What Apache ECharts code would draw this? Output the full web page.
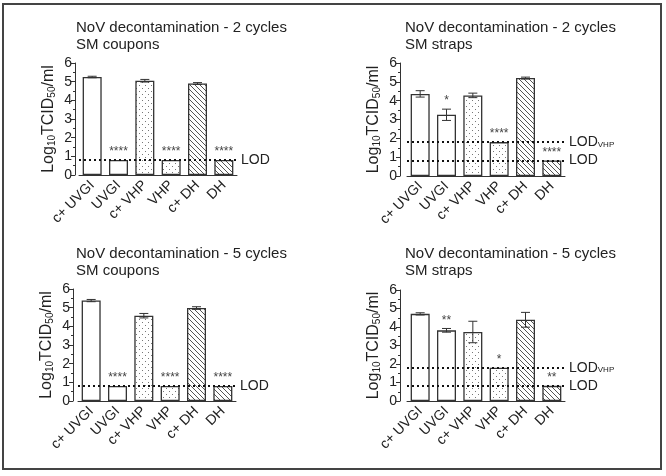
<!DOCTYPE html>
<html>
<head>
<meta charset="utf-8">
<script src="https://cdn.jsdelivr.net/npm/echarts@6/dist/echarts.min.js"></script>
<style>
html,body{margin:0;padding:0;background:#fff;}
#chart{width:666px;height:476px;}
</style>
</head>
<body>
<div id="chart"></div>
<script>
// ---- data ----
const categories = ['c+ UVGI', 'UVGI', 'c+ VHP', 'VHP', 'c+ DH', 'DH'];
const yTicks = [0, 1, 2, 3, 4, 5, 6];

const titles = [
  'NoV decontamination - 2 cycles\nSM coupons',
  'NoV decontamination - 2 cycles\nSM straps',
  'NoV decontamination - 5 cycles\nSM coupons',
  'NoV decontamination - 5 cycles\nSM straps'
];

const means2Coupons = [5.25, 0.8, 5.05, 0.8, 4.9, 0.8];
const errs2Coupons  = [0.04, 0, 0.07, 0, 0.05, 0];
const sig2Coupons   = ['', '****', '', '****', '', '****'];

const means2Straps = [4.36, 3.25, 4.28, 1.8, 5.2, 0.82];
const errs2Straps  = [0.17, 0.3, 0.12, 0, 0.05, 0];
const sig2Straps   = ['', '*', '', '****', '', '****'];

const means5Coupons = [5.38, 0.8, 4.57, 0.8, 4.98, 0.8];
const errs5Coupons  = [0.06, 0, 0.12, 0, 0.07, 0];
const sig5Coupons   = ['', '****', '', '****', '', '****'];

const means5Straps = [4.71, 3.82, 3.73, 1.8, 4.39, 0.82];
const errs5Straps  = [0.06, 0.1, 0.58, 0, 0.4, 0];
const sig5Straps   = ['', '**', '', '*', '', '**'];

const lod = 0.82;
const lodVHP = 1.8;

// ---- patterns ----
function hatchPattern() {
  const c = document.createElement('canvas');
  c.width = 5; c.height = 5;
  const g = c.getContext('2d');
  g.fillStyle = '#fff'; g.fillRect(0, 0, 5, 5);
  g.strokeStyle = '#555'; g.lineWidth = 1;
  g.beginPath();
  g.moveTo(-1, -1); g.lineTo(6, 6);
  g.moveTo(-1, 4); g.lineTo(2, 7);
  g.moveTo(4, -1); g.lineTo(7, 2);
  g.stroke();
  return {image: c, repeat: 'repeat'};
}
function dotPattern() {
  const c = document.createElement('canvas');
  c.width = 6; c.height = 6;
  const g = c.getContext('2d');
  g.fillStyle = '#fff'; g.fillRect(0, 0, 6, 6);
  g.fillStyle = '#777';
  g.fillRect(1, 1, 1, 1);
  g.fillRect(4, 4, 1, 1);
  return {image: c, repeat: 'repeat'};
}
const fills = ['#fff', '#fff', dotPattern(), dotPattern(), hatchPattern(), hatchPattern()];

const FONT = 'Liberation Sans, Arial, sans-serif';
const panels = [
  {means: means2Coupons, errs: errs2Coupons, sig: sig2Coupons, vhp: false, grid: {left: 79, top: 63, width: 158, height: 112}, off: 4, tx: 76, ty: 19},
  {means: means2Straps, errs: errs2Straps, sig: sig2Straps, vhp: true, grid: {left: 407, top: 63, width: 158, height: 113}, off: 7, tx: 405, ty: 19},
  {means: means5Coupons, errs: errs5Coupons, sig: sig5Coupons, vhp: false, grid: {left: 78, top: 289, width: 158, height: 112}, off: 5, tx: 76, ty: 245},
  {means: means5Straps, errs: errs5Straps, sig: sig5Straps, vhp: true, grid: {left: 407, top: 290, width: 158, height: 111}, off: 7, tx: 405, ty: 245}
];

const option = {
  backgroundColor: '#fff',
  animation: false,
  title: panels.map((p, i) => ({
    text: titles[i], left: p.tx, top: p.ty, padding: 0,
    textStyle: {fontSize: 15, fontWeight: 'normal', color: '#222', lineHeight: 17, fontFamily: FONT}
  })),
  graphic: [{
    type: 'rect', shape: {x: 3, y: 4, width: 658, height: 465},
    style: {fill: 'none', stroke: '#444', lineWidth: 2}, z: 100
  }],
  grid: panels.map(p => Object.assign({}, p.grid)),
  xAxis: panels.map((p, i) => ({
    type: 'category', gridIndex: i, data: categories,
    axisLine: {lineStyle: {color: '#333', width: 1}},
    axisTick: {alignWithLabel: true, length: 4, lineStyle: {color: '#333'}},
    axisLabel: {rotate: 45, interval: 0, fontSize: 14, color: '#222', margin: 8, fontFamily: FONT}
  })),
  yAxis: panels.map((p, i) => ({
    type: 'value', gridIndex: i, min: yTicks[0], max: yTicks[yTicks.length - 1], interval: 1,
    offset: p.off,
    name: '{n|Log}{s|10}{n|TCID}{s|50}{n|/ml}',
    nameLocation: 'middle', nameGap: 18, nameRotate: 90,
    nameTextStyle: {
      rich: {
        n: {fontSize: 16, color: '#222', fontFamily: FONT},
        s: {fontSize: 10, color: '#222', fontFamily: FONT, padding: [6, 0, 0, 0]}
      }
    },
    axisLine: {show: true, lineStyle: {color: '#333', width: 1}},
    axisTick: {show: true, length: 4, lineStyle: {color: '#333'}},
    minorTick: {show: true, splitNumber: 2, length: 2, lineStyle: {color: '#333'}},
    splitLine: {show: false},
    axisLabel: {fontSize: 14, color: '#222', margin: 3, fontFamily: FONT}
  })),
  series: []
};

panels.forEach((p, i) => {
  const mlData = [{yAxis: lod, label: {formatter: 'LOD'}}];
  if (p.vhp) mlData.push({yAxis: lodVHP, label: {formatter: '{a|LOD}{b|VHP}'}});
  option.series.push({
    type: 'bar', xAxisIndex: i, yAxisIndex: i, barWidth: 19,
    data: p.means.map((v, k) => ({value: v, itemStyle: {color: fills[k]}})),
    itemStyle: {borderColor: '#333', borderWidth: 1.3},
    markLine: {
      silent: true, symbol: 'none', z: 10,
      lineStyle: {type: [2, 3], width: 2, color: '#111'},
      label: {
        position: 'end', distance: 4, fontSize: 14, color: '#222', fontFamily: FONT,
        rich: {
          a: {fontSize: 14, color: '#222', fontFamily: FONT},
          b: {fontSize: 8, color: '#222', fontFamily: FONT, padding: [5, 0, 0, 0]}
        }
      },
      data: mlData
    }
  });
  option.series.push({
    type: 'custom', xAxisIndex: i, yAxisIndex: i, z: 5,
    data: p.means.map((v, k) => [k, v, p.errs[k]]),
    renderItem: function (params, api) {
      const k = api.value(0), v = api.value(1), e = api.value(2);
      const top = api.coord([k, v + e]);
      const bot = api.coord([k, v - e]);
      const x = top[0];
      const cw = 4.5;
      const st = {stroke: '#333', lineWidth: 1};
      const children = [];
      if (e > 0) {
        children.push({type: 'line', shape: {x1: x, y1: top[1], x2: x, y2: bot[1]}, style: st});
        children.push({type: 'line', shape: {x1: x - cw, y1: top[1], x2: x + cw, y2: top[1]}, style: st});
        children.push({type: 'line', shape: {x1: x - cw, y1: bot[1], x2: x + cw, y2: bot[1]}, style: st});
      }
      const s = p.sig[params.dataIndex];
      if (s) {
        children.push({type: 'text', x: x, y: top[1] - 2,
          style: {text: s, fontSize: 12, fill: '#444', align: 'center', verticalAlign: 'bottom', fontFamily: FONT}});
      }
      return {type: 'group', children: children};
    }
  });
});

const chart = echarts.init(document.getElementById('chart'), null, {renderer: 'canvas'});
chart.setOption(option);
</script>
</body>
</html>
